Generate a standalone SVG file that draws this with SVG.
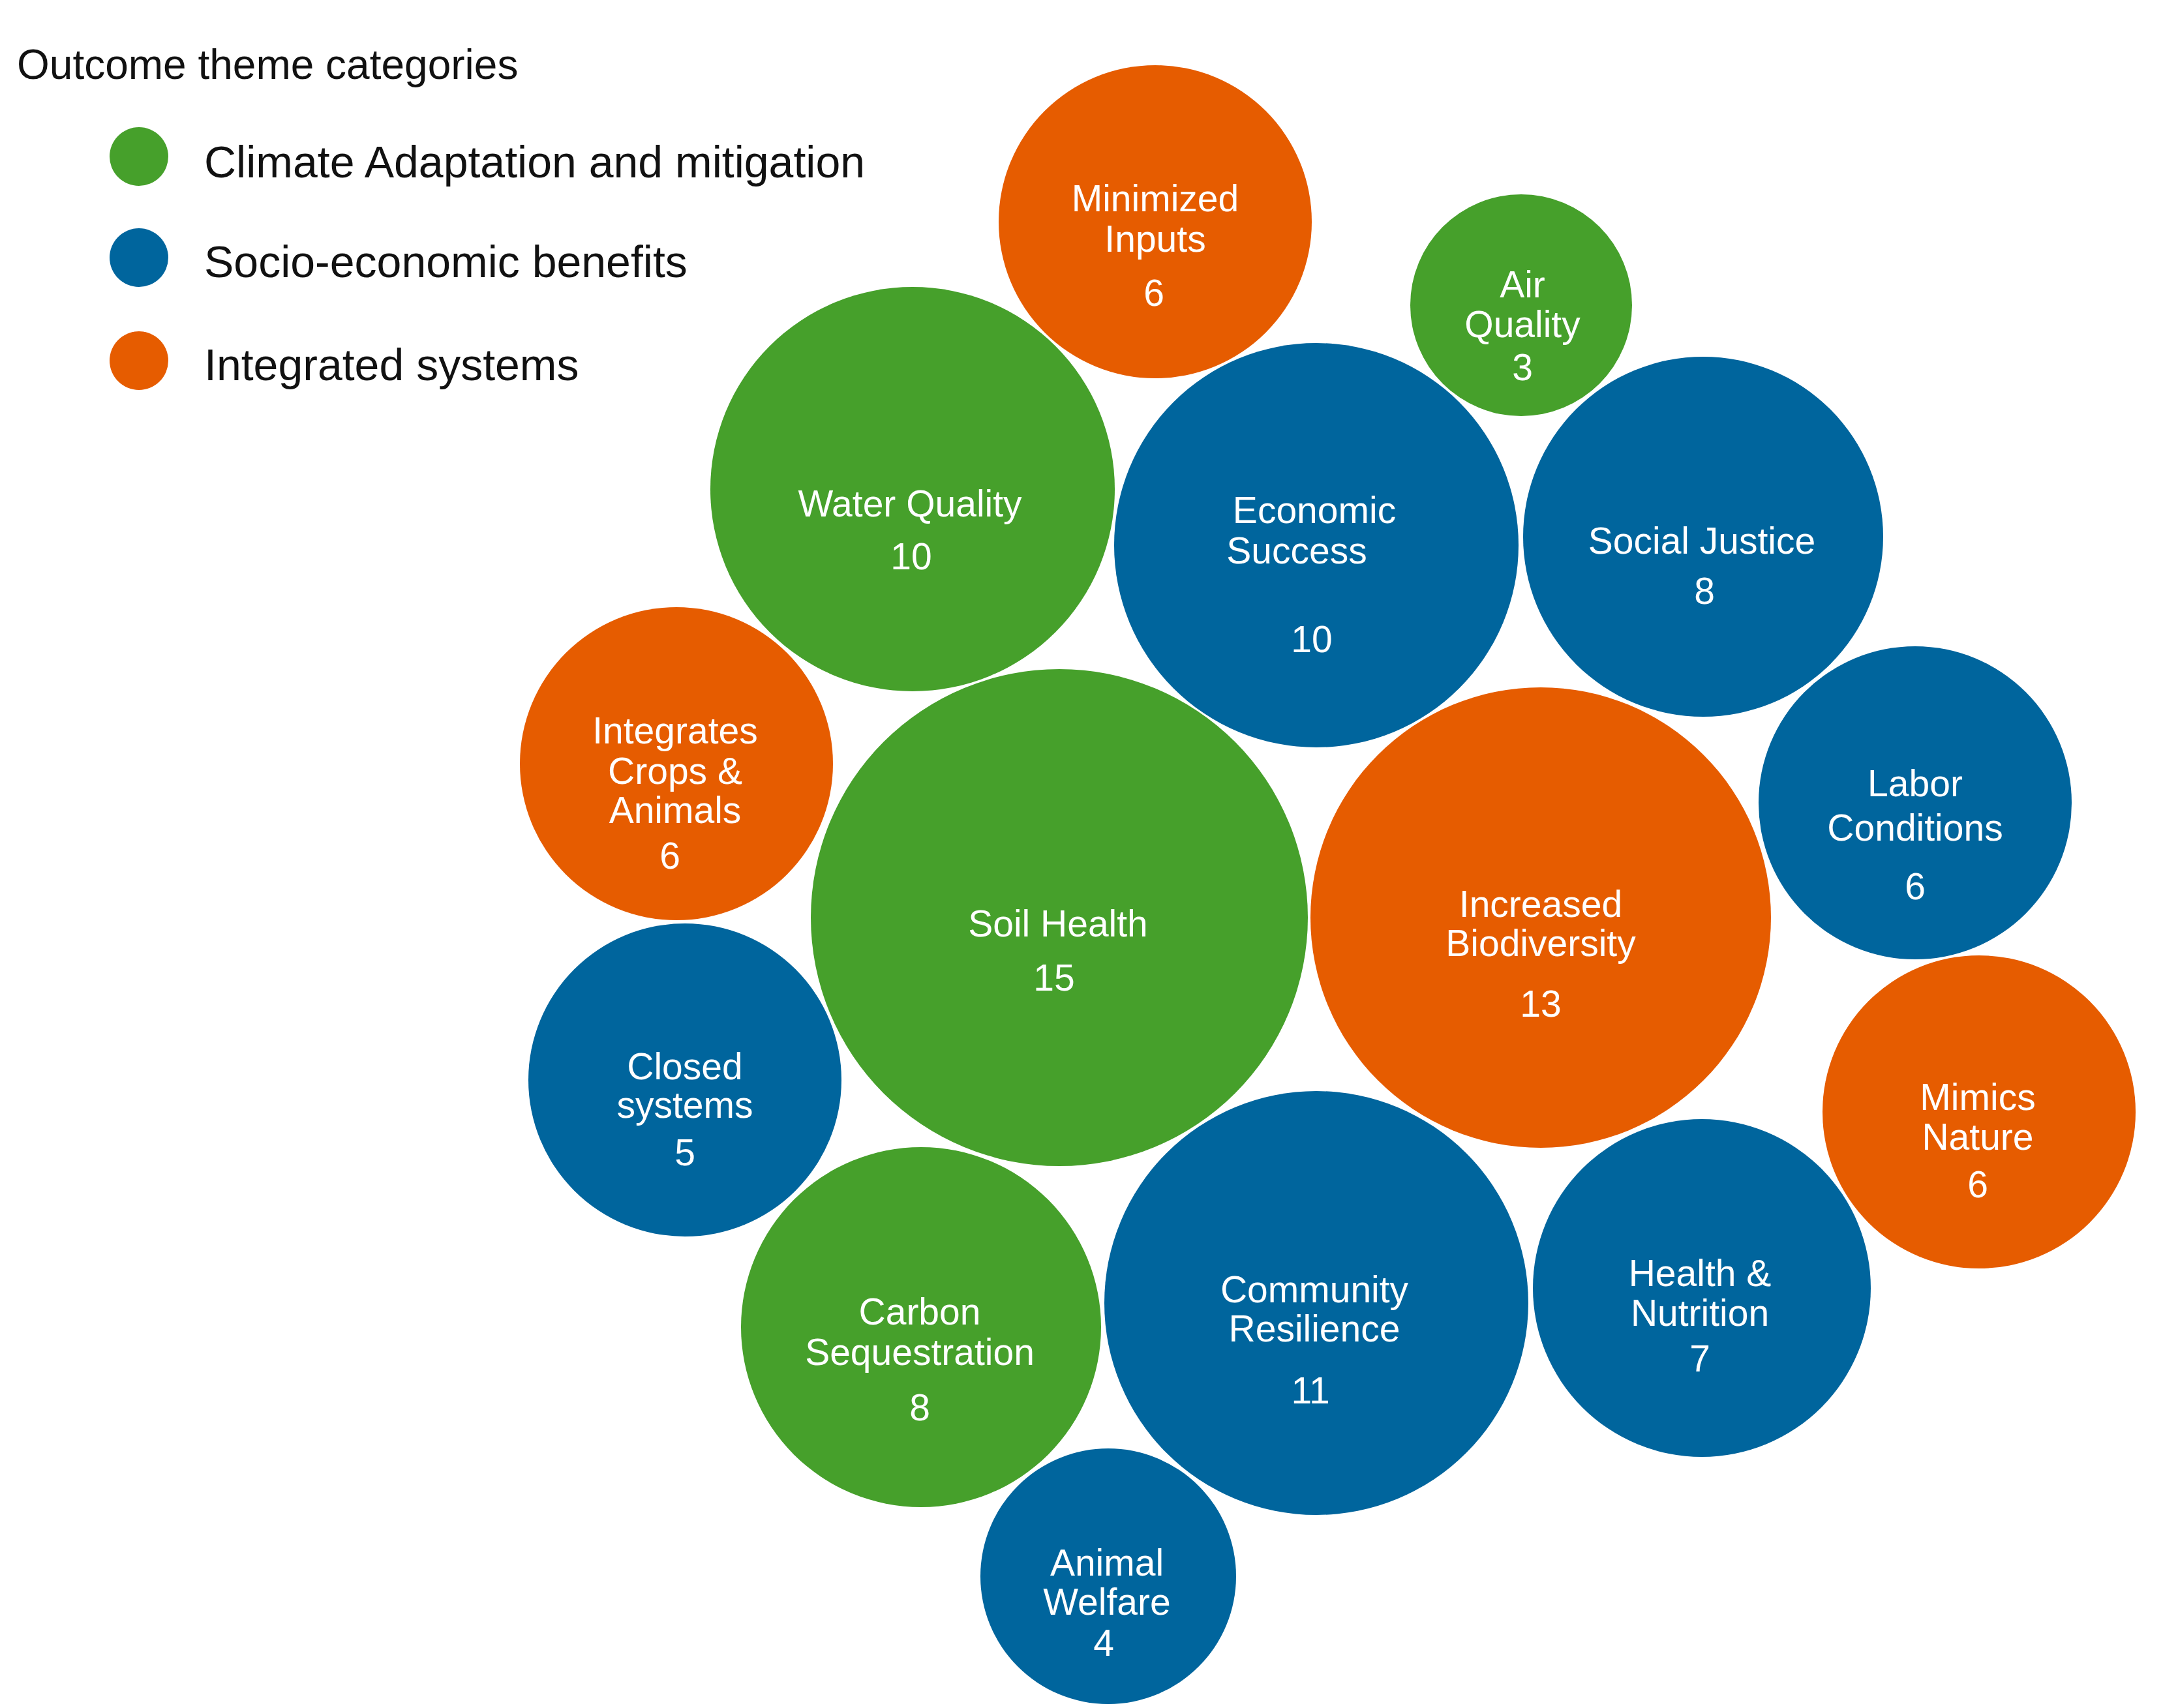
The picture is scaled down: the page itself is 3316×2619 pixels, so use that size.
<svg xmlns="http://www.w3.org/2000/svg" width="3316" height="2619" viewBox="0 0 3316 2619">
<style>
.g{fill:#46A02B}.b{fill:#00659D}.o{fill:#E65C00}
.t{font-family:"Liberation Sans",Arial,sans-serif;font-size:57px;fill:#fff;text-anchor:middle}
.l{font-family:"Liberation Sans",Arial,sans-serif;font-size:68px;fill:#111}
</style>
<rect width="3316" height="2619" fill="#fff"/>
<g id="legend">
<text class="l" x="26" y="121" style="font-size:64px">Outcome theme categories</text>
<circle class="g" cx="213" cy="240" r="45"/><text class="l" x="313" y="272">Climate Adaptation and mitigation</text>
<circle class="b" cx="213" cy="395" r="45"/><text class="l" x="313" y="425">Socio-economic benefits</text>
<circle class="o" cx="213" cy="553" r="45"/><text class="l" x="313" y="583">Integrated systems</text>
</g>
<g id="connectors"/>
<g id="minimized"><circle class="o" cx="1771" cy="340" r="240"/><text class="t" x="1771" y="324">Minimized</text><text class="t" x="1771" y="386">Inputs</text><text class="t" x="1769" y="469">6</text></g>
<g id="air"><circle class="g" cx="2332" cy="468" r="170"/><text class="t" x="2334" y="456">Air</text><text class="t" x="2334" y="517">Quality</text><text class="t" x="2334" y="583">3</text></g>
<g id="water"><circle class="g" cx="1399" cy="750" r="310"/><text class="t" x="1395" y="792">Water Quality</text><text class="t" x="1397" y="873">10</text></g>
<g id="economic"><circle class="b" cx="2018" cy="836" r="310"/><text class="t" x="2015" y="802">Economic</text><text class="t" x="1988" y="864">Success</text><text class="t" x="2011" y="1000">10</text></g>
<g id="social"><circle class="b" cx="2611" cy="823" r="276"/><text class="t" x="2609" y="849">Social Justice</text><text class="t" x="2613" y="926">8</text></g>
<g id="integrates"><circle class="o" cx="1037" cy="1171" r="240"/><text class="t" x="1035" y="1140">Integrates</text><text class="t" x="1035" y="1202">Crops &amp;</text><text class="t" x="1035" y="1262">Animals</text><text class="t" x="1027" y="1332">6</text></g>
<g id="soil"><circle class="g" cx="1624" cy="1407" r="381"/><text class="t" x="1622" y="1436">Soil Health</text><text class="t" x="1616" y="1519">15</text></g>
<g id="biodiversity"><circle class="o" cx="2362" cy="1407" r="353"/><text class="t" x="2362" y="1406">Increased</text><text class="t" x="2362" y="1466">Biodiversity</text><text class="t" x="2362" y="1559">13</text></g>
<g id="labor"><circle class="b" cx="2936" cy="1231" r="240"/><text class="t" x="2936" y="1221">Labor</text><text class="t" x="2936" y="1289">Conditions</text><text class="t" x="2936" y="1379">6</text></g>
<g id="closed"><circle class="b" cx="1050" cy="1656" r="240"/><text class="t" x="1050" y="1655">Closed</text><text class="t" x="1050" y="1714">systems</text><text class="t" x="1050" y="1787">5</text></g>
<g id="mimics"><circle class="o" cx="3034" cy="1705" r="240"/><text class="t" x="3032" y="1702">Mimics</text><text class="t" x="3032" y="1763">Nature</text><text class="t" x="3032" y="1836">6</text></g>
<g id="carbon"><circle class="g" cx="1412" cy="2035" r="276"/><text class="t" x="1410" y="2031">Carbon</text><text class="t" x="1410" y="2093">Sequestration</text><text class="t" x="1410" y="2178">8</text></g>
<g id="community"><circle class="b" cx="2018" cy="1998" r="325"/><text class="t" x="2015" y="1997">Community</text><text class="t" x="2015" y="2057">Resilience</text><text class="t" x="2009" y="2152">11</text></g>
<g id="health"><circle class="b" cx="2609" cy="1975" r="259"/><text class="t" x="2606" y="1972">Health &amp;</text><text class="t" x="2606" y="2033">Nutrition</text><text class="t" x="2606" y="2103">7</text></g>
<g id="animal"><circle class="b" cx="1699" cy="2417" r="196"/><text class="t" x="1697" y="2416">Animal</text><text class="t" x="1697" y="2476">Welfare</text><text class="t" x="1692" y="2539">4</text></g>
</svg>
